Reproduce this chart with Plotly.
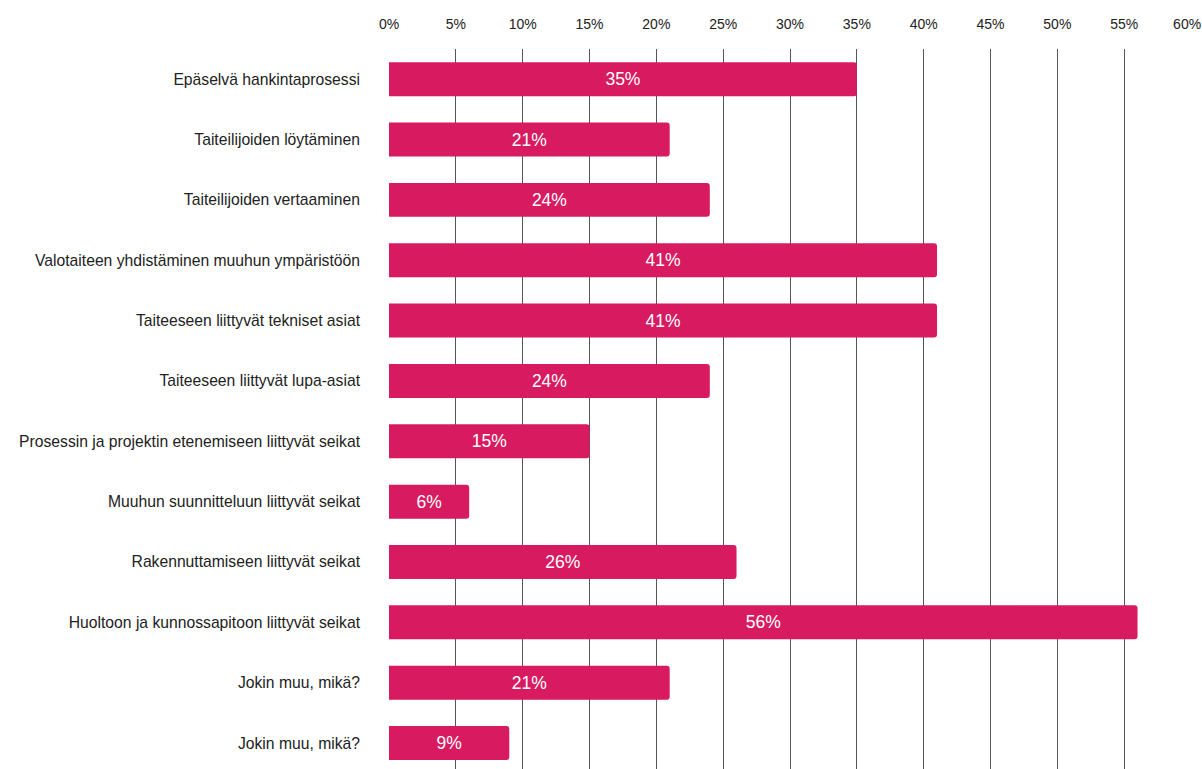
import plotly.graph_objects as go

categories = [
    "Epäselvä hankintaprosessi",
    "Taiteilijoiden löytäminen",
    "Taiteilijoiden vertaaminen",
    "Valotaiteen yhdistäminen muuhun ympäristöön",
    "Taiteeseen liittyvät tekniset asiat",
    "Taiteeseen liittyvät lupa-asiat",
    "Prosessin ja projektin etenemiseen liittyvät seikat",
    "Muuhun suunnitteluun liittyvät seikat",
    "Rakennuttamiseen liittyvät seikat",
    "Huoltoon ja kunnossapitoon liittyvät seikat",
    "Jokin muu, mikä?",
    "Jokin muu, mikä?",
]
values = [35, 21, 24, 41, 41, 24, 15, 6, 26, 56, 21, 9]
x_ticks = list(range(0, 61, 5))
x_tick_labels = [f"{t}%" for t in x_ticks]
# keep the last label inside the page edge
x_tick_labels[-1] = x_tick_labels[-1] + "\u00a0\u00a0"

positions = list(range(len(categories)))

fig = go.Figure(
    go.Bar(
        x=values,
        y=positions,
        orientation="h",
        marker=dict(color="#D81B60", line=dict(width=0)),
        text=[f"{v}%" for v in values],
        textposition="inside",
        insidetextanchor="middle",
        textfont=dict(color="white", size=17.5, family="Liberation Sans, Arial, sans-serif"),
        hoverinfo="skip",
    )
)

fig.update_layout(
    width=1202,
    height=769,
    margin=dict(l=389, r=11, t=49, b=0),
    paper_bgcolor="white",
    plot_bgcolor="white",
    bargap=0.437,
    barcornerradius=3,
    showlegend=False,
    font=dict(family="Liberation Sans, Arial, sans-serif", size=14, color="#222222"),
    xaxis=dict(
        side="top",
        range=[0, 60],
        tickvals=x_ticks,
        ticktext=x_tick_labels,
        showgrid=True,
        gridcolor="#555555",
        gridwidth=1.2,
        zeroline=False,
        showline=False,
        ticks="",
        automargin=False,
        ticklabelstandoff=16,
        ticklabeloverflow="allow",
        tickfont=dict(size=14, color="#222222"),
    ),
    yaxis=dict(
        range=[11.43, -0.5],
        tickvals=positions,
        ticktext=categories,
        showgrid=False,
        zeroline=False,
        showline=False,
        ticks="",
        automargin=False,
        ticklabelstandoff=28,
        tickfont=dict(size=15.7, color="#222222"),
    ),
)

fig.write_html(
    "out.html",
    config={"displayModeBar": False},
    post_script="document.body.style.margin='0';document.body.style.overflow='hidden';",
)
